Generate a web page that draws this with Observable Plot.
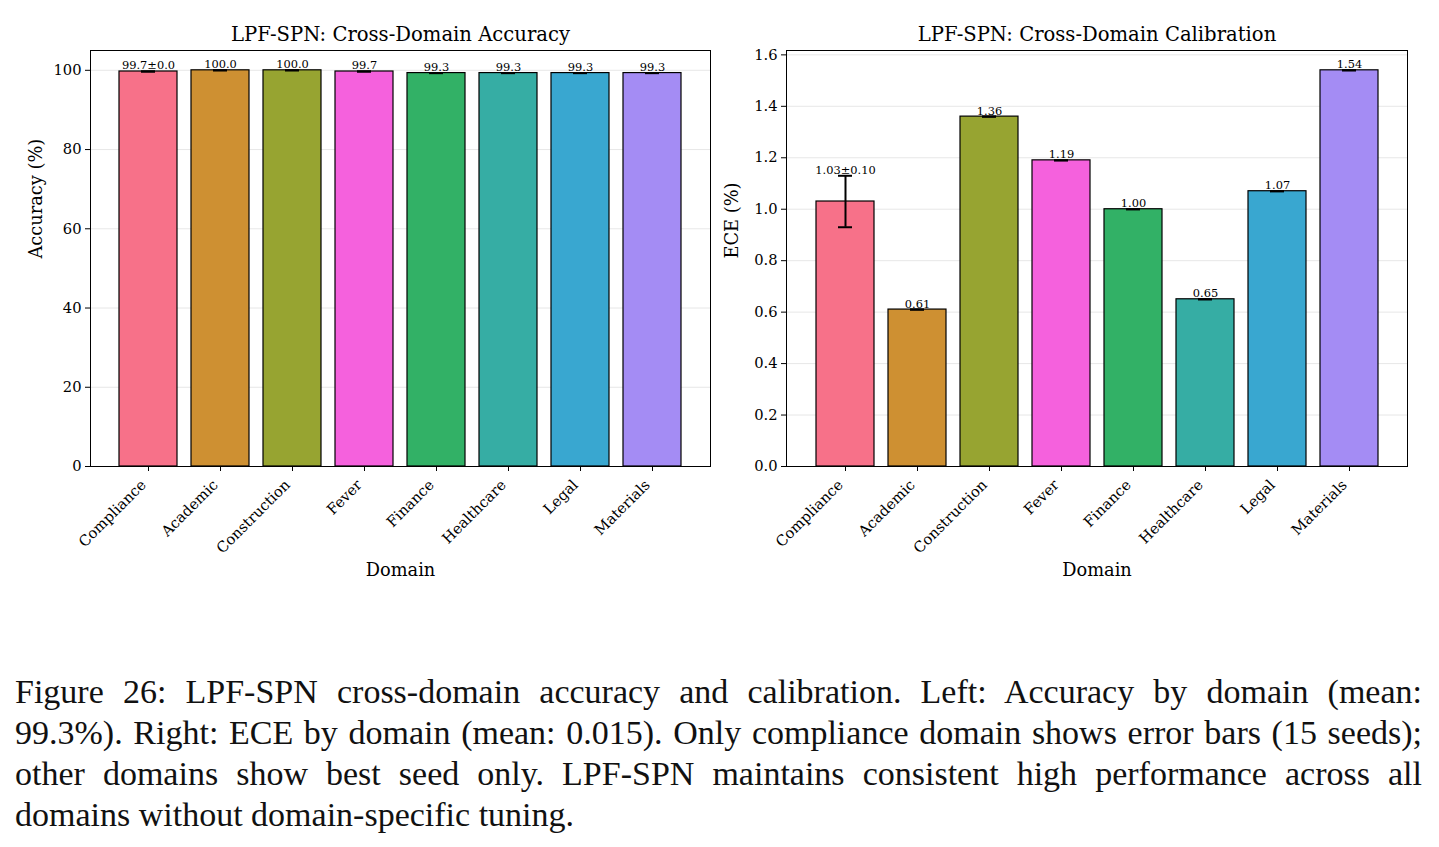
<!DOCTYPE html>
<html>
<head>
<meta charset="utf-8">
<script src="https://cdn.jsdelivr.net/npm/d3@7"></script>
<script src="https://cdn.jsdelivr.net/npm/@observablehq/plot@0.6"></script>
<style>
  html, body { margin: 0; padding: 0; background: #fff; }
  body { width: 1439px; height: 847px; overflow: hidden; position: relative; }
  #charts { position: absolute; left: 0; top: 0; display: flex; }
  #charts svg { font-family: "DejaVu Serif", serif; overflow: visible; }
  #caption {
    position: absolute; left: 15px; top: 671px; width: 1407px;
    font-family: "Liberation Serif", "DejaVu Serif", serif;
    font-size: 34px; line-height: 41px; color: #111;
  }
  #caption .ln { text-align: justify; text-align-last: justify; white-space: nowrap; }
  #caption .ln.last { text-align-last: left; }
</style>
</head>
<body>
<div id="charts"></div>
<div id="caption">
  <div class="ln">Figure 26: LPF-SPN cross-domain accuracy and calibration. Left: Accuracy by domain (mean:</div>
  <div class="ln">99.3%). Right: ECE by domain (mean: 0.015). Only compliance domain shows error bars (15 seeds);</div>
  <div class="ln">other domains show best seed only. LPF-SPN maintains consistent high performance across all</div>
  <div class="ln last">domains without domain-specific tuning.</div>
</div>
<script>
// Domains, in plotting order, with their bar colours
const domains = ["Compliance", "Academic", "Construction", "Fever", "Finance", "Healthcare", "Legal", "Materials"];
const colors = ["#f77189", "#ce9032", "#97a431", "#f561dd", "#32b166", "#36ada4", "#39a7d0", "#a48cf4"];

// Number of seeds per domain (only compliance was run with several seeds)
const seeds = [15, 1, 1, 1, 1, 1, 1, 1];

// Accuracy (%) per domain and its standard deviation
const accuracy = [99.7, 100.0, 100.0, 99.7, 99.3, 99.3, 99.3, 99.3];
const accuracyStd = [0.0, 0, 0, 0, 0, 0, 0, 0];

// ECE (%) per domain and its standard deviation
const ece = [1.03, 0.61, 1.36, 1.19, 1.00, 0.65, 1.07, 1.54];
const eceStd = [0.10, 0, 0, 0, 0, 0, 0, 0];

const accTicks = [0, 20, 40, 60, 80, 100];
const eceTicks = [0, 0.2, 0.4, 0.6, 0.8, 1.0, 1.2, 1.4, 1.6];

function rows(values, stds, digits) {
  return domains.map((d, i) => ({
    domain: d,
    value: values[i],
    std: stds[i],
    label: seeds[i] > 1
      ? `${values[i].toFixed(digits)}±${stds[i].toFixed(digits)}`
      : values[i].toFixed(digits)
  }));
}

function panel({data, title, ylabel, yDomain, ticks, tickFormat, width, marginLeft, marginRight}) {
  return Plot.plot({
    width,
    height: 600,
    marginTop: 50,
    marginBottom: 134,
    marginLeft,
    marginRight,
    style: {fontFamily: "'DejaVu Serif', serif", fontSize: "14.7px", color: "#000", background: "transparent"},
    x: {type: "band", domain: domains, paddingInner: 0.2, paddingOuter: 0.39, align: 0.5},
    y: {domain: yDomain},
    color: {domain: domains, range: colors},
    marks: [
      Plot.gridY(ticks, {stroke: "#b0b0b0", strokeOpacity: 0.3, strokeWidth: 1}),
      Plot.barY(data, {x: "domain", y: "value", fill: "domain", stroke: "#000", strokeWidth: 1.2}),
      // error bars with caps
      Plot.ruleX(data, {x: "domain", y1: d => d.value - d.std, y2: d => d.value + d.std, stroke: "#000", strokeWidth: 2}),
      Plot.tickY(data, {x: "domain", y: d => d.value - d.std, stroke: "#000", strokeWidth: 2, insetLeft: 22, insetRight: 22}),
      Plot.tickY(data, {x: "domain", y: d => d.value + d.std, stroke: "#000", strokeWidth: 2, insetLeft: 22, insetRight: 22}),
      Plot.text(data, {x: "domain", y: d => d.value + d.std, text: "label", dy: -2, lineAnchor: "bottom", fontSize: 11.4, fill: "#000"}),
      Plot.axisY(ticks, {tickSize: 5, tickPadding: 4, tickFormat, fontSize: 14.7, label: null}),
      // x tick marks, then the rotated domain names
      Plot.axisX({tickSize: 5, tickFormat: () => "", label: null}),
      Plot.axisX({tickSize: 0, tickPadding: 16, tickRotate: -45, dx: -5, fontSize: 14.7, label: null}),
      Plot.frame({stroke: "#000", strokeWidth: 1}),
      Plot.text([title], {frameAnchor: "top", lineAnchor: "middle", dy: -16, fontSize: 19.6, fill: "#000"}),
      Plot.text([ylabel], {frameAnchor: "left", lineAnchor: "middle", rotate: -90, dx: -54, fontSize: 17.8, fill: "#000"}),
      Plot.text(["Domain"], {frameAnchor: "bottom", lineAnchor: "middle", dy: 104, fontSize: 17.8, fill: "#000"})
    ]
  });
}

const charts = document.getElementById("charts");
charts.append(panel({
  data: rows(accuracy, accuracyStd, 1),
  title: "LPF-SPN: Cross-Domain Accuracy",
  ylabel: "Accuracy (%)",
  yDomain: [0, 105],
  ticks: accTicks,
  tickFormat: d3.format("d"),
  width: 720, marginLeft: 90, marginRight: 10
}));
charts.append(panel({
  data: rows(ece, eceStd, 2),
  title: "LPF-SPN: Cross-Domain Calibration",
  ylabel: "ECE (%)",
  yDomain: [0, 1.617],
  ticks: eceTicks,
  tickFormat: d3.format(".1f"),
  width: 719, marginLeft: 66, marginRight: 32
}));
</script>
</body>
</html>
